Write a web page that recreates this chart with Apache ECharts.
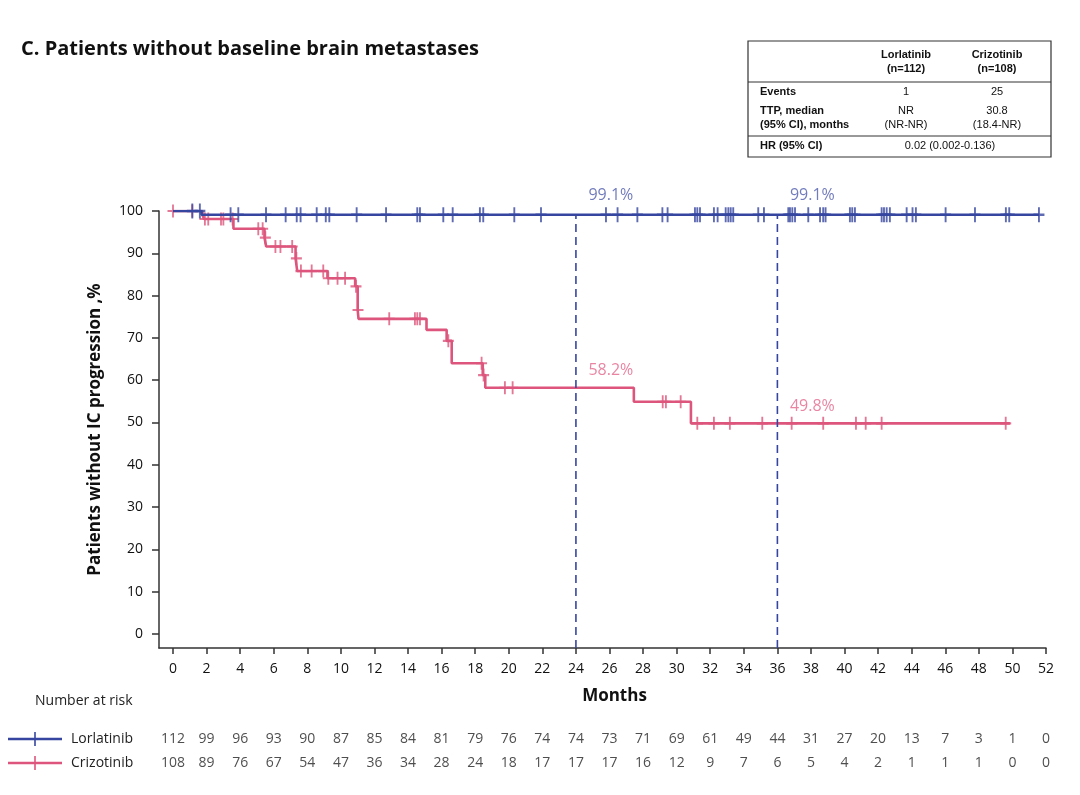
<!DOCTYPE html>
<html><head><meta charset="utf-8">
<script src="https://cdn.jsdelivr.net/npm/echarts@6/dist/echarts.min.js"></script>
<style>html,body{margin:0;padding:0;background:#fff}#c{width:1080px;height:795px}</style>
</head><body><div id="c"></div>
<script>
// ---- data ----
const xTicks = [0,2,4,6,8,10,12,14,16,18,20,22,24,26,28,30,32,34,36,38,40,42,44,46,48,50,52];
const yTicks = [0,10,20,30,40,50,60,70,80,90,100];

const lorStepT = [0, 1.7, 51.6];
const lorStepS = [100, 99.1, 99.1];
const lorCensor = [1.15,1.6,3.43,3.89,5.54,6.71,7.37,7.6,8.56,9.1,9.31,10.94,12.69,14.55,14.71,16.1,16.66,18.28,18.48,20.33,21.92,25.79,26.48,27.66,29.15,29.46,31.09,31.23,31.39,32.22,32.44,32.92,33.08,33.22,33.37,34.86,35.2,36.65,36.75,36.89,37.05,37.84,38.54,38.73,38.87,40.32,40.46,40.62,42.21,42.35,42.51,42.7,43.7,44.05,44.25,46.02,47.77,49.61,49.81,51.58];

const crizStepT = [0,1.75,1.85,3.6,5.45,5.55,7.3,7.4,9.2,10.85,11.0,11.05,15.1,16.3,16.6,18.45,18.6,27.45,30.85,49.85];
const crizStepS = [100,99.1,98.1,95.8,93.7,91.6,88.8,85.8,84.1,82.2,76.6,74.5,71.9,69.3,64.0,61.2,58.2,54.9,49.8,49.8];
const crizCensor = [0,1.15,1.9,2.1,2.86,3.0,3.55,5.08,5.34,5.5,6.1,6.4,7.1,7.35,7.62,8.26,8.95,9.25,9.8,10.25,10.9,11.02,12.88,14.41,14.55,14.71,16.4,18.38,18.5,19.77,20.23,29.17,29.36,30.24,31.23,32.22,33.17,35.1,36.85,38.73,40.68,41.26,42.21,49.6];

const markMonths = [24, 36];
const lorAtMark = [99.1, 99.1];
const crizAtMark = [58.2, 49.8];

const riskMonths = [0,2,4,6,8,10,12,14,16,18,20,22,24,26,28,30,32,34,36,38,40,42,44,46,48,50,52];
const lorRisk = [112,99,96,93,90,87,85,84,81,79,76,74,74,73,71,69,61,49,44,31,27,20,13,7,3,1,0];
const crizRisk = [108,89,76,67,54,47,36,34,28,24,18,17,17,17,16,12,9,7,6,5,4,2,1,1,1,0,0];

// ---- styling ----
const BLUE = '#3646a0';
const PINK = '#dd557c';
const BLUE_TXT = '#4d5bab';
const PINK_TXT = '#e4678c';
const FONT = '"Open Sans", "Noto Sans", sans-serif';
const XMIN = -0.834, YMIN = -3.31;

function survAt(T, S, t) {
  let v = S[0];
  for (let i = 0; i < T.length; i++) { if (T[i] <= t) v = S[i]; }
  return v;
}
const plus = 'path://M6,0L6,12M0,6L12,6';

const chart = echarts.init(document.getElementById('c'), null, {renderer: 'canvas'});

const series = [
  { type:'line', name:'Crizotinib', step:'end', showSymbol:false, xAxisIndex:0, yAxisIndex:0,
    data: crizStepT.map((t,i)=>[t, crizStepS[i]]), lineStyle:{color:PINK, width:2.6}, itemStyle:{color:PINK}, z:2 },
  { type:'scatter', xAxisIndex:0, yAxisIndex:0, symbol: plus, symbolSize:[11,13],
    data: crizCensor.map(t=>[t, survAt(crizStepT, crizStepS, t)]),
    itemStyle:{color:'transparent', borderColor:PINK, borderWidth:2}, z:3 },
  { type:'line', name:'Lorlatinib', step:'end', showSymbol:false, xAxisIndex:0, yAxisIndex:0,
    data: lorStepT.map((t,i)=>[t, lorStepS[i]]), lineStyle:{color:BLUE, width:2.6}, itemStyle:{color:BLUE}, z:4 },
  { type:'scatter', xAxisIndex:0, yAxisIndex:0, symbol: plus, symbolSize:[11,15],
    data: lorCensor.map(t=>[t, survAt(lorStepT, lorStepS, t)]),
    itemStyle:{color:'transparent', borderColor:BLUE, borderWidth:2.2}, z:5 }
];
markMonths.forEach((m,i)=>{
  series.push({ type:'line', xAxisIndex:0, yAxisIndex:0, showSymbol:false,
    data:[[m, YMIN],[m, lorAtMark[i]]], lineStyle:{color:BLUE, width:1.6, type:[8,5]}, z:6 });
});
series.push({ type:'scatter', xAxisIndex:0, yAxisIndex:0, symbolSize:1, itemStyle:{color:'transparent'},
  data: markMonths.map((m,i)=>({value:[m, lorAtMark[i]], label:{color:BLUE_TXT}}))
    .concat(markMonths.map((m,i)=>({value:[m, crizAtMark[i]], label:{color:PINK_TXT, offset:[7,-17]}}))),
  label:{show:true, position:'right', offset:[7,-19], fontSize:16, fontFamily:FONT,
    formatter:p=>p.value[1].toFixed(1)+'%'}, z:7 });
series.push({ type:'scatter', xAxisIndex:1, yAxisIndex:1, symbolSize:1, itemStyle:{color:'transparent'},
  data: riskMonths.map((m,i)=>[m, 1, lorRisk[i]]),
  label:{show:true, position:'inside', fontSize:14, fontFamily:FONT, color:'#222', formatter:p=>String(p.value[2])} });
series.push({ type:'scatter', xAxisIndex:1, yAxisIndex:1, symbolSize:1, itemStyle:{color:'transparent'},
  data: riskMonths.map((m,i)=>[m, 0, crizRisk[i]]),
  label:{show:true, position:'inside', fontSize:14, fontFamily:FONT, color:'#222', formatter:p=>String(p.value[2])} });

const tFont = '11px "Liberation Sans", Arial, sans-serif';
const tBold = 'bold 11px "Liberation Sans", Arial, sans-serif';
function T(text, x, y, font, align) {
  return { type:'text', style:{ text, x, y, font, fill:'#111', textAlign:align||'left', textVerticalAlign:'middle' } };
}

const option = {
  animation:false,
  backgroundColor:'#fff',
  title:{ text:'C. Patients without baseline brain metastases', left:16, top:34,
    textStyle:{ fontSize:20, fontWeight:'bold', color:'#111', fontFamily:FONT } },
  grid:[
    { left:159, right:34, top:211, bottom:147 },
    { left:159, right:34, top:739, bottom:32 }
  ],
  xAxis:[
    { type:'value', gridIndex:0, min:XMIN, max:52,
      axisLine:{show:true, onZero:false, lineStyle:{color:'#333', width:1.5}},
      axisTick:{show:true, customValues:xTicks, length:6, lineStyle:{color:'#333', width:1.5}},
      axisLabel:{show:true, customValues:xTicks, margin:14, fontSize:14, color:'#111', fontFamily:FONT},
      splitLine:{show:false},
      name:'Months', nameLocation:'middle', nameGap:40,
      nameTextStyle:{fontSize:17, fontWeight:'bold', color:'#111', fontFamily:FONT, padding:[0,0,0,24]} },
    { type:'value', gridIndex:1, min:XMIN, max:52, show:false }
  ],
  yAxis:[
    { type:'value', gridIndex:0, min:YMIN, max:100,
      axisLine:{show:true, onZero:false, lineStyle:{color:'#333', width:1.5}},
      axisTick:{show:true, customValues:yTicks, length:7, lineStyle:{color:'#333', width:1.5}},
      axisLabel:{show:true, customValues:yTicks, margin:16, fontSize:14, color:'#111', fontFamily:FONT},
      splitLine:{show:false},
      name:'Patients without IC progression ,%', nameLocation:'middle', nameGap:55, nameRotate:90,
      nameTextStyle:{fontSize:17, fontWeight:'bold', color:'#111', fontFamily:FONT} },
    { type:'value', gridIndex:1, min:0, max:1, show:false }
  ],
  graphic:[
    { type:'rect', shape:{x:748, y:41, width:303, height:116}, style:{fill:'none', stroke:'#333', lineWidth:1.2} },
    { type:'line', shape:{x1:748, y1:82, x2:1051, y2:82}, style:{stroke:'#333', lineWidth:1} },
    { type:'line', shape:{x1:748, y1:136, x2:1051, y2:136}, style:{stroke:'#333', lineWidth:1} },
    T('Lorlatinib', 906, 55, tBold, 'center'),
    T('(n=112)', 906, 69, tBold, 'center'),
    T('Crizotinib', 997, 55, tBold, 'center'),
    T('(n=108)', 997, 69, tBold, 'center'),
    T('Events', 760, 92, tBold),
    T('1', 906, 92, tFont, 'center'),
    T('25', 997, 92, tFont, 'center'),
    T('TTP, median', 760, 111, tBold),
    T('(95% CI), months', 760, 125, tBold),
    T('NR', 906, 111, tFont, 'center'),
    T('(NR-NR)', 906, 125, tFont, 'center'),
    T('30.8', 997, 111, tFont, 'center'),
    T('(18.4-NR)', 997, 125, tFont, 'center'),
    T('HR (95% CI)', 760, 146, tBold),
    T('0.02 (0.002-0.136)', 950, 146, tFont, 'center'),
    { type:'text', style:{ text:'Number at risk', x:35, y:701, font:'14px '+FONT, fill:'#222', textVerticalAlign:'middle' } },
    { type:'line', shape:{x1:8, y1:739, x2:62, y2:739}, style:{stroke:BLUE, lineWidth:2.5} },
    { type:'line', shape:{x1:35, y1:732, x2:35, y2:746}, style:{stroke:BLUE, lineWidth:1.6} },
    { type:'text', style:{ text:'Lorlatinib', x:71, y:739, font:'14px '+FONT, fill:'#222', textVerticalAlign:'middle' } },
    { type:'line', shape:{x1:8, y1:763, x2:62, y2:763}, style:{stroke:PINK, lineWidth:2.5} },
    { type:'line', shape:{x1:35, y1:756, x2:35, y2:770}, style:{stroke:PINK, lineWidth:1.6} },
    { type:'text', style:{ text:'Crizotinib', x:71, y:763, font:'14px '+FONT, fill:'#222', textVerticalAlign:'middle' } }
  ],
  series
};
chart.setOption(option);
</script>
</body></html>
